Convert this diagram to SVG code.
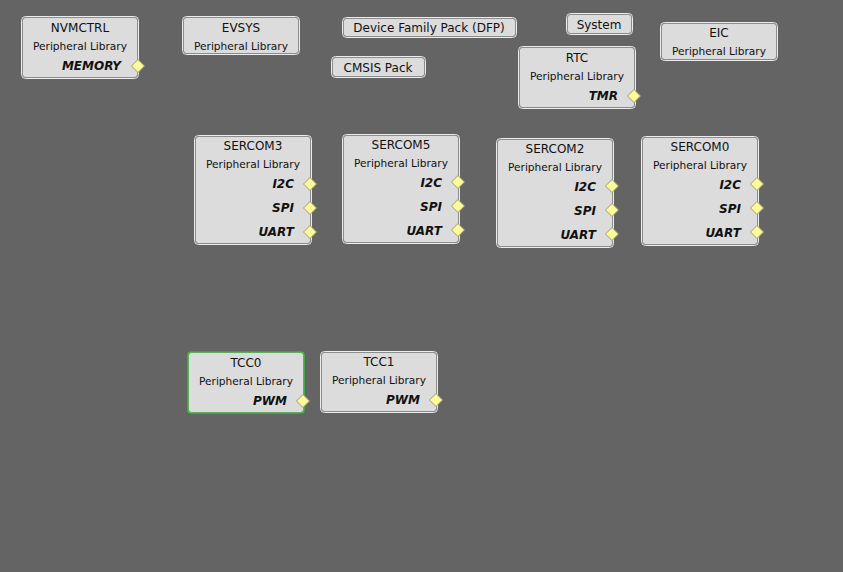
<svg xmlns="http://www.w3.org/2000/svg" width="843" height="572" viewBox="0 0 843 572">
<defs>
<style>
.o{fill:none;stroke:#ececec;stroke-width:1}
.b{fill:#dcdcdc;stroke:#8c8c8c;stroke-width:1}
.g{fill:none;stroke:#2fd12f;stroke-width:1.2}
.t{font-family:"DejaVu Sans",Verdana,sans-serif;font-size:12px;fill:#111;text-anchor:middle}
.s{font-family:"DejaVu Sans",Verdana,sans-serif;font-size:10.6px;fill:#111;text-anchor:middle}
.p{font-family:"DejaVu Sans",Verdana,sans-serif;font-size:12px;font-weight:bold;font-style:italic;fill:#111;text-anchor:end}
.d{fill:#fbfb9c;stroke:#9a9a70;stroke-width:1}
</style>
<path id="dm" d="M0,-6.5 L6.5,0 L0,6.5 L-6.5,0 Z"/>
</defs>
<rect width="843" height="572" fill="#646464"/>
<g id="connectors"></g>

<g id="nvmctrl">
<rect class="o" x="21.5" y="16.5" width="117" height="62" rx="4"/>
<rect class="b" x="22.5" y="17.5" width="115" height="60" rx="3"/>
<text class="t" x="80" y="32">NVMCTRL</text>
<text class="s" x="80" y="50">Peripheral Library</text>
<text class="p" x="121" y="70">MEMORY</text>
<use href="#dm" class="d" x="138" y="66"/>
</g>

<g id="evsys">
<rect class="o" x="182.5" y="16.5" width="117" height="38" rx="4"/>
<rect class="b" x="183.5" y="17.5" width="115" height="36" rx="3"/>
<text class="t" x="241" y="32">EVSYS</text>
<text class="s" x="241" y="50">Peripheral Library</text>
</g>

<g id="dfp">
<rect class="o" x="342.5" y="17.5" width="174" height="20" rx="4"/>
<rect class="b" x="343.5" y="18.5" width="172" height="18" rx="3"/>
<text class="t" x="429" y="32">Device Family Pack (DFP)</text>
</g>

<g id="cmsis">
<rect class="o" x="331.5" y="56.5" width="94" height="21" rx="4"/>
<rect class="b" x="332.5" y="57.5" width="92" height="19" rx="3"/>
<text class="t" x="378" y="72">CMSIS Pack</text>
</g>

<g id="system">
<rect class="o" x="566.5" y="13.5" width="66" height="21" rx="4"/>
<rect class="b" x="567.5" y="14.5" width="64" height="19" rx="3"/>
<text class="t" x="599" y="29">System</text>
</g>

<g id="rtc">
<rect class="o" x="518.5" y="46.5" width="117" height="62" rx="4"/>
<rect class="b" x="519.5" y="47.5" width="115" height="60" rx="3"/>
<text class="t" x="577" y="62">RTC</text>
<text class="s" x="577" y="80">Peripheral Library</text>
<text class="p" x="618" y="100">TMR</text>
<use href="#dm" class="d" x="634" y="96"/>
</g>

<g id="eic">
<rect class="o" x="660.5" y="22.5" width="117" height="38" rx="4"/>
<rect class="b" x="661.5" y="23.5" width="115" height="36" rx="3"/>
<text class="t" x="719" y="37">EIC</text>
<text class="s" x="719" y="55">Peripheral Library</text>
</g>

<g id="sercom3">
<rect class="o" x="194.5" y="135.5" width="117" height="109" rx="4"/>
<rect class="b" x="195.5" y="136.5" width="115" height="107" rx="3"/>
<text class="t" x="253" y="150">SERCOM3</text>
<text class="s" x="253" y="168">Peripheral Library</text>
<text class="p" x="294" y="188">I2C</text>
<text class="p" x="294" y="212">SPI</text>
<text class="p" x="294" y="236">UART</text>
<use href="#dm" class="d" x="310" y="184"/>
<use href="#dm" class="d" x="310" y="208"/>
<use href="#dm" class="d" x="310" y="232"/>
</g>

<g id="sercom5">
<rect class="o" x="342.5" y="134.5" width="117" height="109" rx="4"/>
<rect class="b" x="343.5" y="135.5" width="115" height="107" rx="3"/>
<text class="t" x="401" y="149">SERCOM5</text>
<text class="s" x="401" y="167">Peripheral Library</text>
<text class="p" x="442" y="187">I2C</text>
<text class="p" x="442" y="211">SPI</text>
<text class="p" x="442" y="235">UART</text>
<use href="#dm" class="d" x="458" y="182"/>
<use href="#dm" class="d" x="458" y="206"/>
<use href="#dm" class="d" x="458" y="230"/>
</g>

<g id="sercom2">
<rect class="o" x="496.5" y="138.5" width="117" height="109" rx="4"/>
<rect class="b" x="497.5" y="139.5" width="115" height="107" rx="3"/>
<text class="t" x="555" y="153">SERCOM2</text>
<text class="s" x="555" y="171">Peripheral Library</text>
<text class="p" x="596" y="191">I2C</text>
<text class="p" x="596" y="215">SPI</text>
<text class="p" x="596" y="239">UART</text>
<use href="#dm" class="d" x="612" y="186"/>
<use href="#dm" class="d" x="612" y="210"/>
<use href="#dm" class="d" x="612" y="234"/>
</g>

<g id="sercom0">
<rect class="o" x="641.5" y="136.5" width="117" height="109" rx="4"/>
<rect class="b" x="642.5" y="137.5" width="115" height="107" rx="3"/>
<text class="t" x="700" y="151">SERCOM0</text>
<text class="s" x="700" y="169">Peripheral Library</text>
<text class="p" x="741" y="189">I2C</text>
<text class="p" x="741" y="213">SPI</text>
<text class="p" x="741" y="237">UART</text>
<use href="#dm" class="d" x="757" y="184"/>
<use href="#dm" class="d" x="757" y="208"/>
<use href="#dm" class="d" x="757" y="232"/>
</g>

<g id="tcc0">
<rect class="b" x="188.5" y="352.5" width="115" height="60" rx="3"/>
<rect class="g" x="188" y="352" width="116" height="61" rx="3"/>
<text class="t" x="246" y="367">TCC0</text>
<text class="s" x="246" y="385">Peripheral Library</text>
<text class="p" x="287" y="405">PWM</text>
<use href="#dm" class="d" x="303" y="401"/>
</g>

<g id="tcc1">
<rect class="o" x="320.5" y="351.5" width="117" height="61" rx="4"/>
<rect class="b" x="321.5" y="352.5" width="115" height="59" rx="3"/>
<text class="t" x="379" y="366">TCC1</text>
<text class="s" x="379" y="384">Peripheral Library</text>
<text class="p" x="420" y="404">PWM</text>
<use href="#dm" class="d" x="436" y="400"/>
</g>
</svg>
